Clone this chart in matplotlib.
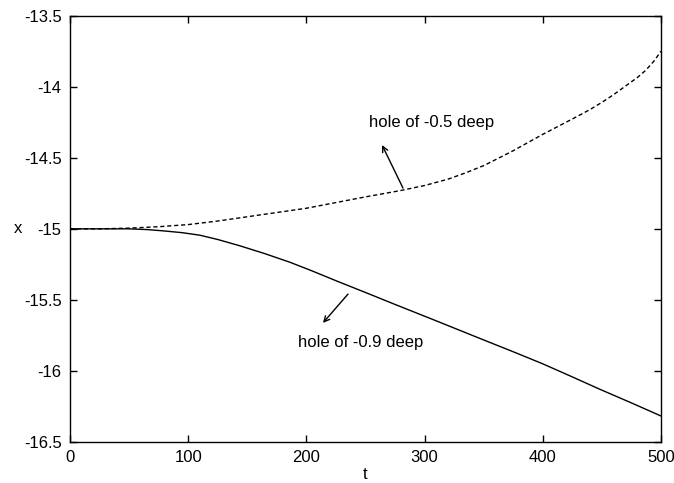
import matplotlib
matplotlib.use("Agg")
import matplotlib.pyplot as plt

plt.rcParams['font.family'] = ['Liberation Sans', 'DejaVu Sans']

# hole of -0.5 deep (dashed)
t_shallow = [0, 25, 50, 75, 100, 125, 150, 175, 200, 225, 250, 280, 300, 320,
             335, 350, 362, 375, 388, 400, 415, 430, 440, 450, 460, 470, 480,
             487, 494, 500]
x_shallow = [-15.0, -15.0, -14.995, -14.985, -14.97, -14.945, -14.915, -14.885,
             -14.855, -14.815, -14.775, -14.73, -14.695, -14.65, -14.605,
             -14.555, -14.505, -14.45, -14.39, -14.335, -14.27, -14.205,
             -14.16, -14.11, -14.055, -13.995, -13.935, -13.885, -13.82, -13.75]

# hole of -0.9 deep (solid)
t_deep = [0, 25, 50, 65, 80, 95, 110, 125, 144, 165, 186, 203, 225, 250, 275,
          307, 330, 350, 375, 400, 425, 448, 475, 500]
x_deep = [-15.0, -15.0, -15.0, -15.005, -15.015, -15.027, -15.045, -15.075,
          -15.12, -15.175, -15.235, -15.29, -15.365, -15.448, -15.532, -15.638,
          -15.715, -15.782, -15.865, -15.95, -16.042, -16.128, -16.225, -16.317]

fig = plt.figure(figsize=(6.74, 4.83), dpi=100)
ax = fig.add_axes([0.1039, 0.0849, 0.8768, 0.8826])

ax.plot(t_shallow, x_shallow, color='black', lw=1, linestyle=(0, (3, 2)))
ax.plot(t_deep, x_deep, color='black', lw=1)

ax.set_xlim(0, 500)
ax.set_ylim(-16.5, -13.5)
ax.set_xticks([0, 100, 200, 300, 400, 500])
ax.set_yticks([-16.5, -16, -15.5, -15, -14.5, -14, -13.5])
ax.set_yticklabels(['-16.5', '-16', '-15.5', '-15', '-14.5', '-14', '-13.5'])
ax.tick_params(direction='in', length=5, width=1, top=True, right=True,
               labelsize=12, pad=6)
for s in ax.spines.values():
    s.set_linewidth(1)

ax.set_xlabel('t', fontsize=12, labelpad=1)
ax.set_ylabel('x', fontsize=12, rotation=0, labelpad=4, va='center')

arr = dict(arrowstyle='->', color='black', lw=1, shrinkA=0, shrinkB=0)
ax.annotate('', xy=(264, -14.41), xytext=(281.7, -14.713), arrowprops=arr)
ax.text(253, -14.255, 'hole of -0.5 deep', fontsize=12, ha='left', va='center')
ax.annotate('', xy=(214, -15.662), xytext=(235.2, -15.459), arrowprops=arr)
ax.text(193, -15.797, 'hole of -0.9 deep', fontsize=12, ha='left', va='center')

fig.savefig('out.png', dpi=100)
